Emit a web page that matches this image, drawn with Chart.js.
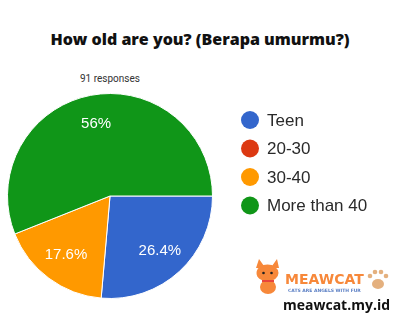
<!DOCTYPE html>
<html lang="en">
<head>
    <meta charset="UTF-8">
    <title>How old are you?</title>
    <script src="https://cdn.jsdelivr.net/npm/chart.js@4.4.0/dist/chart.umd.min.js"></script>
    <style>
        body { margin: 0; background: #fff; }
        .wrap { position: relative; width: 400px; height: 318px; overflow: hidden; }
        #title { position: absolute; left: 0; width: 400px; top: 28px; text-align: center;
                 font-family: 'Open Sans', sans-serif; font-weight: 800; font-size: 16px; color: #111; }
        #resp { position: absolute; left: 80px; top: 73px; font-family: Roboto, Arial, sans-serif;
                font-size: 10px; color: #333; }
        canvas { position: absolute; left: 0; top: 0; }
    </style>
</head>
<body>
    <div class="wrap">
        <div id="title">How old are you? (Berapa umurmu?)</div>
        <div id="resp">91 responses</div>
        <canvas id="pie" width="400" height="318"></canvas>
    </div>

    <script>
        const labels = ['Teen', '20-30', '30-40', 'More than 40'];
        const counts = [24, 0, 16, 51];
        const percentLabels = ['26.4%', '', '17.6%', '56%'];
        const colors = ['#3366cc', '#dc3912', '#ff9900', '#109618'];

        // percent text inside each slice
        const sliceText = {
            id: 'sliceText',
            afterDatasetsDraw(chart) {
                const ctx = chart.ctx;
                ctx.save();
                ctx.fillStyle = '#fff';
                ctx.font = '15px Arial, "Liberation Sans", sans-serif';
                ctx.textAlign = 'center';
                ctx.textBaseline = 'middle';
                chart.getDatasetMeta(0).data.forEach((arc, i) => {
                    if (!percentLabels[i]) return;
                    const mid = (arc.startAngle + arc.endAngle) / 2;
                    const r = arc.outerRadius * 0.72;
                    ctx.fillText(percentLabels[i], arc.x + Math.cos(mid) * r, arc.y + Math.sin(mid) * r);
                });
                ctx.restore();
            }
        };

        // legend on the right, google forms style
        const sideLegend = {
            id: 'sideLegend',
            afterDraw(chart) {
                const ctx = chart.ctx;
                ctx.save();
                ctx.textBaseline = 'middle';
                ctx.font = '17px Arial, "Liberation Sans", sans-serif';
                chart.data.labels.forEach((lab, i) => {
                    const y = 120 + i * 28.5;
                    ctx.fillStyle = chart.data.datasets[0].backgroundColor[i];
                    ctx.beginPath();
                    ctx.arc(250, y, 9, 0, Math.PI * 2);
                    ctx.fill();
                    ctx.fillStyle = '#2a2a2a';
                    ctx.fillText(lab, 267, y + 1);
                });
                ctx.restore();
            }
        };

        // small meawcat logo bottom right
        const logo = {
            id: 'logo',
            afterDraw(chart) {
                const ctx = chart.ctx;
                ctx.save();
                // cat head
                ctx.fillStyle = '#f7883a';
                ctx.beginPath();
                ctx.moveTo(256, 268); ctx.lineTo(259, 259); ctx.lineTo(264, 266);
                ctx.lineTo(272, 266); ctx.lineTo(277, 259); ctx.lineTo(279, 268);
                ctx.fill();
                ctx.beginPath();
                ctx.ellipse(267.5, 273, 11, 8.5, 0, 0, Math.PI * 2);
                ctx.fill();
                // body
                ctx.beginPath();
                ctx.ellipse(268, 287, 8, 7, 0, 0, Math.PI * 2);
                ctx.fill();
                ctx.fillStyle = '#e8453c';
                ctx.fillRect(262, 280, 12, 2);
                ctx.fillStyle = '#222';
                ctx.beginPath(); ctx.arc(263.5, 273, 1.3, 0, Math.PI * 2); ctx.fill();
                ctx.beginPath(); ctx.arc(271.5, 273, 1.3, 0, Math.PI * 2); ctx.fill();
                // brand text
                ctx.fillStyle = '#f7883a';
                ctx.font = 'bold 14px "DejaVu Sans", sans-serif';
                ctx.textBaseline = 'alphabetic';
                ctx.fillText('MEAWCAT', 285, 284);
                ctx.fillStyle = '#5b7fc4';
                ctx.font = 'bold 4.5px "DejaVu Sans", sans-serif';
                ctx.fillText('CATS ARE ANGELS WITH FUR', 288, 292);
                // paw
                ctx.fillStyle = '#e4b07e';
                ctx.beginPath(); ctx.ellipse(378, 284, 6, 5, 0, 0, Math.PI * 2); ctx.fill();
                [[370, 276], [375, 272], [381, 272], [386, 276]].forEach(p => {
                    ctx.beginPath(); ctx.arc(p[0], p[1], 2.3, 0, Math.PI * 2); ctx.fill();
                });
                // url
                ctx.fillStyle = '#111';
                ctx.font = 'bold 14px "Open Sans", sans-serif';
                ctx.fillText('meawcat.my.id', 283, 310);
                ctx.restore();
            }
        };

        new Chart(document.getElementById('pie'), {
            type: 'pie',
            data: {
                labels: labels,
                datasets: [{
                    data: counts,
                    backgroundColor: colors,
                    borderColor: '#fff',
                    borderWidth: 1
                }]
            },
            options: {
                responsive: false,
                animation: false,
                rotation: 90,
                layout: { padding: { left: 7, right: 187, top: 93, bottom: 19 } },
                plugins: {
                    legend: { display: false },
                    tooltip: { enabled: false }
                }
            },
            plugins: [sliceText, sideLegend, logo]
        });
    </script>
</body>
</html>
